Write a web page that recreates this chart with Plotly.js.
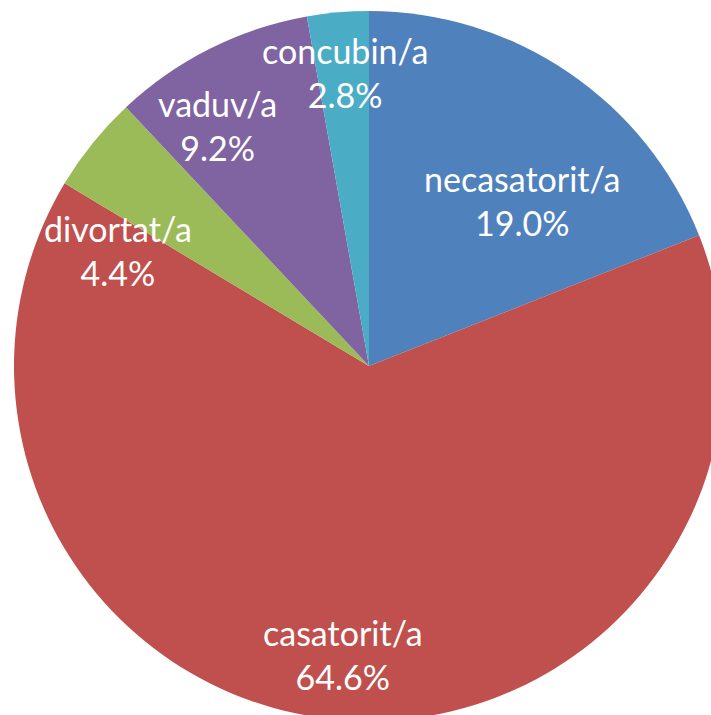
<!DOCTYPE html>
<html>
<head>
<meta charset="utf-8">
<script src="https://cdn.plot.ly/plotly-3.0.1.min.js"></script>
<style>
html,body{margin:0;padding:0;overflow:hidden;background:#fff;width:711px;height:715px;}
#chart{position:absolute;left:0;top:0;}
</style>
</head>
<body>
<div id="chart"></div>
<script>
const categories = ["necasatorit/a", "casatorit/a", "divortat/a", "vaduv/a", "concubin/a"];
const values = [19.0, 64.6, 4.4, 9.2, 2.8];
const colors = ["#4F81BD", "#C0504D", "#9BBB59", "#8064A2", "#4BACC6"];

// label placement tweaks (radius fraction, angle nudge in degrees)
const labelR = [0.636, 0.817, 0.778, 0.80, 0.83];
const labelNudge = [8.5, 0.4, -14.1, -5.5, 0.3];

const W = 738, H = 722;
const m = {l: 14, r: 14, t: 11, b: 1};
const R = 355;
const cx = m.l + R, cy = m.t + R;
const pw = W - m.l - m.r, ph = H - m.t - m.b;

const total = values.reduce((a, b) => a + b, 0);
let cum = 0;
const annotations = categories.map((c, i) => {
  const mid = (cum + values[i] / 2) / total * 360 + labelNudge[i];
  cum += values[i];
  const rad = mid * Math.PI / 180;
  const x = cx + labelR[i] * R * Math.sin(rad);
  const y = cy - labelR[i] * R * Math.cos(rad);
  return {
    x: (x - m.l) / pw, y: 1 - (y - m.t) / ph, xref: "paper", yref: "paper",
    text: c + "<br>" + values[i].toFixed(1) + "%",
    showarrow: false, xanchor: "center", yanchor: "middle",
    font: {family: "Lato, 'Open Sans', sans-serif", size: 34, color: "#ffffff"}
  };
});

Plotly.newPlot("chart", [{
  type: "pie",
  labels: categories,
  values: values,
  sort: false,
  direction: "clockwise",
  rotation: 0,
  marker: {colors: colors, line: {width: 0}},
  textinfo: "none",
  hoverinfo: "label+percent",
  showlegend: false
}], {
  width: W, height: H,
  margin: m,
  paper_bgcolor: "#ffffff",
  plot_bgcolor: "#ffffff",
  showlegend: false,
  annotations: annotations
}, {displayModeBar: false, staticPlot: true});
</script>
</body>
</html>
